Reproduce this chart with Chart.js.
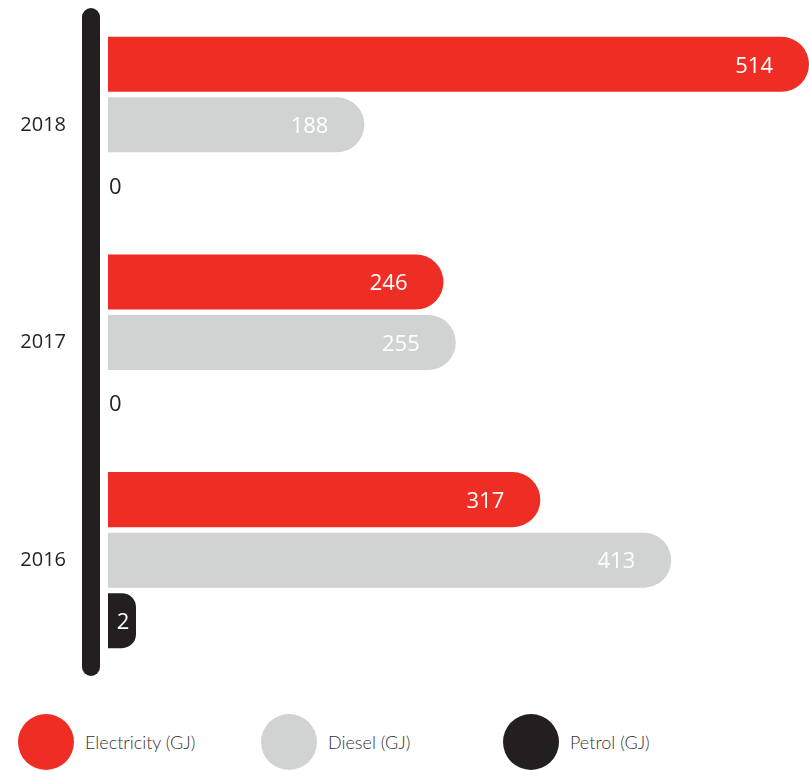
<!DOCTYPE html>
<html>
<head>
<meta charset="utf-8">
<title>Energy use (GJ)</title>
<script src="https://cdn.jsdelivr.net/npm/chart.js@4"></script>
<style>
  body { margin: 0; background: #fff; font-family: "Open Sans", sans-serif; }
  #wrap { position: relative; width: 809px; height: 771px; }
  #chart { display: block; }
  #legend { position: absolute; left: 0; top: 714px; width: 809px; height: 56px; }
  .item { position: absolute; top: 0; height: 56px; display: flex; align-items: center; }
  .dot { width: 56px; height: 56px; border-radius: 50%; margin-right: 11px; }
  .txt { font-family: Lato, "Open Sans", sans-serif; font-weight: 300; font-size: 18px; color: #333; }
</style>
</head>
<body>
<div id="wrap">
  <canvas id="chart" width="809" height="685"></canvas>
  <div id="legend"></div>
</div>
<script>
// datos
const years = ['2018', '2017', '2016'];
const electricity = [514, 246, 317];
const diesel = [188, 255, 413];
const petrol = [0, 0, 2];
const seriesNames = ['Electricity (GJ)', 'Diesel (GJ)', 'Petrol (GJ)'];
const seriesColors = ['#ee2e24', '#d1d3d2', '#231f20'];

document.addEventListener('DOMContentLoaded', function() {
    const radius = { topLeft: 0, bottomLeft: 0, topRight: 40, bottomRight: 40 };

    // barra vertical oscura junto al eje
    const axisBar = {
        id: 'axisBar',
        beforeDatasetsDraw(chart) {
            const area = chart.chartArea;
            const ctx = chart.ctx;
            ctx.save();
            ctx.strokeStyle = '#231f20';
            ctx.lineWidth = 18;
            ctx.lineCap = 'round';
            ctx.beginPath();
            ctx.moveTo(area.left - 17, area.top + 1);
            ctx.lineTo(area.left - 17, area.bottom - 2);
            ctx.stroke();
            ctx.restore();
        }
    };

    // etiquetas de valor dentro de las barras
    const valueLabels = {
        id: 'valueLabels',
        afterDatasetsDraw(chart) {
            const ctx = chart.ctx;
            ctx.save();
            ctx.font = '500 22px "Open Sans", sans-serif';
            ctx.textBaseline = 'middle';
            chart.data.datasets.forEach(function(ds, i) {
                chart.getDatasetMeta(i).data.forEach(function(bar, j) {
                    const v = ds.data[j];
                    if (v === 0) {
                        ctx.fillStyle = '#231f20';
                        ctx.textAlign = 'left';
                        ctx.fillText('0', bar.base + 1, bar.y + 2);
                    } else if (bar.x - bar.base < 60) {
                        ctx.fillStyle = '#ffffff';
                        ctx.textAlign = 'center';
                        ctx.fillText(String(v), (bar.x + bar.base) / 2 + 1, bar.y + 2);
                    } else {
                        ctx.fillStyle = '#ffffff';
                        ctx.textAlign = 'right';
                        ctx.fillText(String(v), bar.x - 36, bar.y + 2);
                    }
                });
            });
            ctx.restore();
        }
    };

    const values = [electricity, diesel, petrol];
    const datasets = values.map(function(arr, i) {
        return {
            label: seriesNames[i],
            data: arr,
            backgroundColor: function(c) { return c.raw === 0 ? 'rgba(0,0,0,0)' : seriesColors[i]; },
            borderRadius: radius,
            borderSkipped: 'start',
            minBarLength: i === 2 ? 28 : 0,
            categoryPercentage: 0.834,
            barPercentage: 0.91
        };
    });

    const ctx = document.getElementById('chart').getContext('2d');
    new Chart(ctx, {
        type: 'bar',
        data: { labels: years, datasets: datasets },
        options: {
            indexAxis: 'y',
            responsive: false,
            animation: false,
            layout: { padding: { left: 18, right: 0, top: 16, bottom: 16 } },
            plugins: {
                legend: { display: false },
                tooltip: { enabled: false }
            },
            scales: {
                x: {
                    display: false,
                    min: 0,
                    max: 514
                },
                y: {
                    // el tickLength deja el hueco entre año y barra sin inflar el padding vertical
                    grid: { display: false, drawTicks: true, tickLength: 42 },
                    border: { display: false },
                    ticks: {
                        color: '#231f20',
                        padding: 0,
                        font: { family: '"Open Sans", sans-serif', size: 20, weight: '500' }
                    },
                    afterFit: function(scale) { scale.width = 90; }
                }
            }
        },
        plugins: [axisBar, valueLabels]
    });

    // leyenda en HTML
    const legend = document.getElementById('legend');
    const lefts = [18, 261, 503];
    seriesNames.forEach(function(name, i) {
        const item = document.createElement('div');
        item.className = 'item';
        item.style.left = lefts[i] + 'px';
        item.innerHTML = '<div class="dot" style="background:' + seriesColors[i] + '"></div><span class="txt">' + name + '</span>';
        legend.appendChild(item);
    });
});
</script>
</body>
</html>
